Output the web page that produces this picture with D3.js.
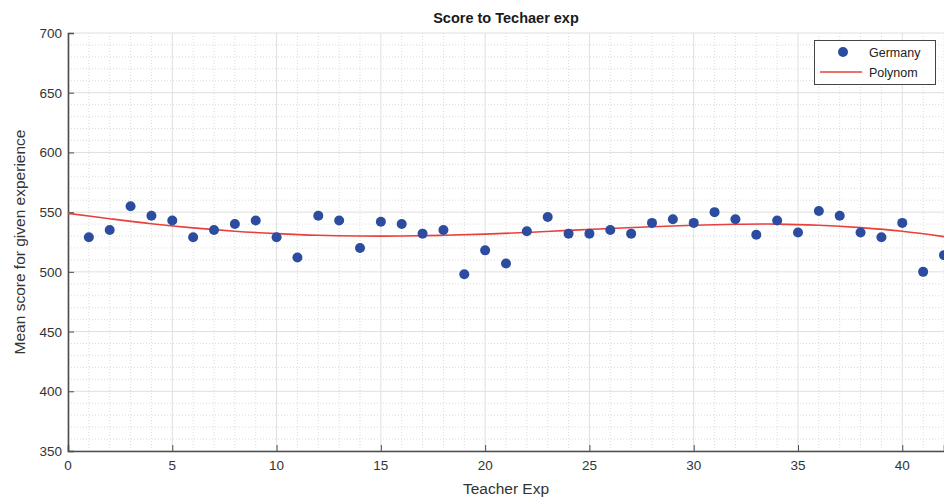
<!DOCTYPE html>
<html>
<head>
<meta charset="utf-8">
<script src="https://cdn.jsdelivr.net/npm/d3@7"></script>
<style>
  html, body { margin: 0; padding: 0; background: #fff; }
  svg { display: block; font-family: "Liberation Sans", Arial, Helvetica, sans-serif; }
</style>
</head>
<body>
<svg id="chart" width="944" height="501"></svg>
<script>
// Mean score per year of teacher experience (Germany)
const experience = d3.range(1, 43);
const germanyScores = [
  529, 535, 555, 547, 543, 529, 535, 540, 543, 529,
  512, 547, 543, 520, 542, 540, 532, 535, 498, 518,
  507, 534, 546, 532, 532, 535, 532, 541, 544, 541,
  550, 544, 531, 543, 533, 551, 547, 533, 529, 541,
  500, 514
];

// Fitted polynomial, sampled every two years
const polyX = d3.range(0, 43, 2);
const polyY = [
  549, 544.5, 540.3, 536.8, 534, 532, 530.6, 530, 530, 530.6,
  531.6, 533, 534.7, 536.3, 537.8, 539, 539.8, 540, 539, 537,
  534, 529.5
];

const xTicks = [0, 5, 10, 15, 20, 25, 30, 35, 40];
const yTicks = [350, 400, 450, 500, 550, 600, 650, 700];

(function draw() {
  const svg = d3.select("#chart");
  const plotLeft = 68, plotRight = 944, plotTop = 33, plotBottom = 451;

  const x = d3.scaleLinear().domain([0, 42]).range([plotLeft, plotRight]);
  const y = d3.scaleLinear().domain([350, 700]).range([plotBottom, plotTop]);

  // Minor grid (dotted)
  const g = svg.append("g");
  d3.range(1, 43).filter(v => v % 5 !== 0).forEach(v => {
    g.append("line").attr("x1", x(v)).attr("x2", x(v)).attr("y1", plotTop).attr("y2", plotBottom)
      .attr("stroke", "#d2d2d2").attr("stroke-width", 0.8).attr("stroke-dasharray", "1,2");
  });
  d3.range(360, 700, 10).filter(v => v % 50 !== 0).forEach(v => {
    g.append("line").attr("x1", plotLeft).attr("x2", plotRight).attr("y1", y(v)).attr("y2", y(v))
      .attr("stroke", "#d2d2d2").attr("stroke-width", 0.8).attr("stroke-dasharray", "1,2");
  });
  // Major grid
  xTicks.forEach(v => {
    g.append("line").attr("x1", x(v)).attr("x2", x(v)).attr("y1", plotTop).attr("y2", plotBottom)
      .attr("stroke", "#dfdfdf").attr("stroke-width", 1);
  });
  yTicks.forEach(v => {
    g.append("line").attr("x1", plotLeft).attr("x2", plotRight).attr("y1", y(v)).attr("y2", y(v))
      .attr("stroke", "#dfdfdf").attr("stroke-width", 1);
  });

  // Axes with inward ticks
  const xAxis = svg.append("g").attr("transform", `translate(0,${plotBottom})`)
    .call(d3.axisTop(x).tickValues(xTicks).tickSize(6).tickFormat(""));
  const yAxis = svg.append("g").attr("transform", `translate(${plotLeft},0)`)
    .call(d3.axisRight(y).tickValues(yTicks).tickSize(6).tickFormat(""));
  [xAxis, yAxis].forEach(a => {
    a.select(".domain").attr("stroke", "#4d4d4d").attr("stroke-width", 1.6);
    a.selectAll(".tick line").attr("stroke", "#4d4d4d").attr("stroke-width", 1);
  });

  // Tick labels
  svg.append("g").selectAll("text").data(xTicks).join("text")
    .attr("x", d => x(d)).attr("y", plotBottom + 19)
    .attr("text-anchor", "middle").attr("font-size", 13.5).attr("fill", "#333")
    .text(d => d);
  svg.append("g").selectAll("text").data(yTicks).join("text")
    .attr("x", plotLeft - 6).attr("y", d => y(d) + 5)
    .attr("text-anchor", "end").attr("font-size", 13.5).attr("fill", "#333")
    .text(d => d);

  // Polynomial fit
  svg.append("path")
    .datum(polyX.map((v, i) => [v, polyY[i]]))
    .attr("fill", "none").attr("stroke", "#e8403d").attr("stroke-width", 1.6)
    .attr("d", d3.line().x(d => x(d[0])).y(d => y(d[1])).curve(d3.curveCatmullRom));

  // Observed points
  svg.append("g").selectAll("circle")
    .data(experience.map((v, i) => [v, germanyScores[i]]))
    .join("circle")
    .attr("cx", d => x(d[0])).attr("cy", d => y(d[1])).attr("r", 5)
    .attr("fill", "#2b4c9f");

  // Title and axis labels
  svg.append("text").attr("x", (plotLeft + plotRight) / 2).attr("y", 23)
    .attr("text-anchor", "middle").attr("font-size", 14.5).attr("font-weight", "bold")
    .attr("fill", "#1a1a1a").text("Score to Techaer exp");
  svg.append("text").attr("x", (plotLeft + plotRight) / 2).attr("y", 494)
    .attr("text-anchor", "middle").attr("font-size", 15.5).attr("fill", "#333")
    .text("Teacher Exp");
  svg.append("text").attr("transform", `translate(25,${(plotTop + plotBottom) / 2}) rotate(-90)`)
    .attr("text-anchor", "middle").attr("font-size", 15.5).attr("fill", "#333")
    .text("Mean score for given experience");

  // Legend
  const lg = svg.append("g");
  lg.append("rect").attr("x", 814.5).attr("y", 40.5).attr("width", 121).attr("height", 44)
    .attr("fill", "#fff").attr("stroke", "#444").attr("stroke-width", 1);
  lg.append("circle").attr("cx", 843).attr("cy", 52).attr("r", 5).attr("fill", "#2b4c9f");
  lg.append("line").attr("x1", 820).attr("x2", 862).attr("y1", 72).attr("y2", 72)
    .attr("stroke", "#e8403d").attr("stroke-width", 1.6);
  lg.append("text").attr("x", 869).attr("y", 57).attr("font-size", 12.5).attr("fill", "#222").text("Germany");
  lg.append("text").attr("x", 869).attr("y", 77).attr("font-size", 12.5).attr("fill", "#222").text("Polynom");
})();
</script>
</body>
</html>
